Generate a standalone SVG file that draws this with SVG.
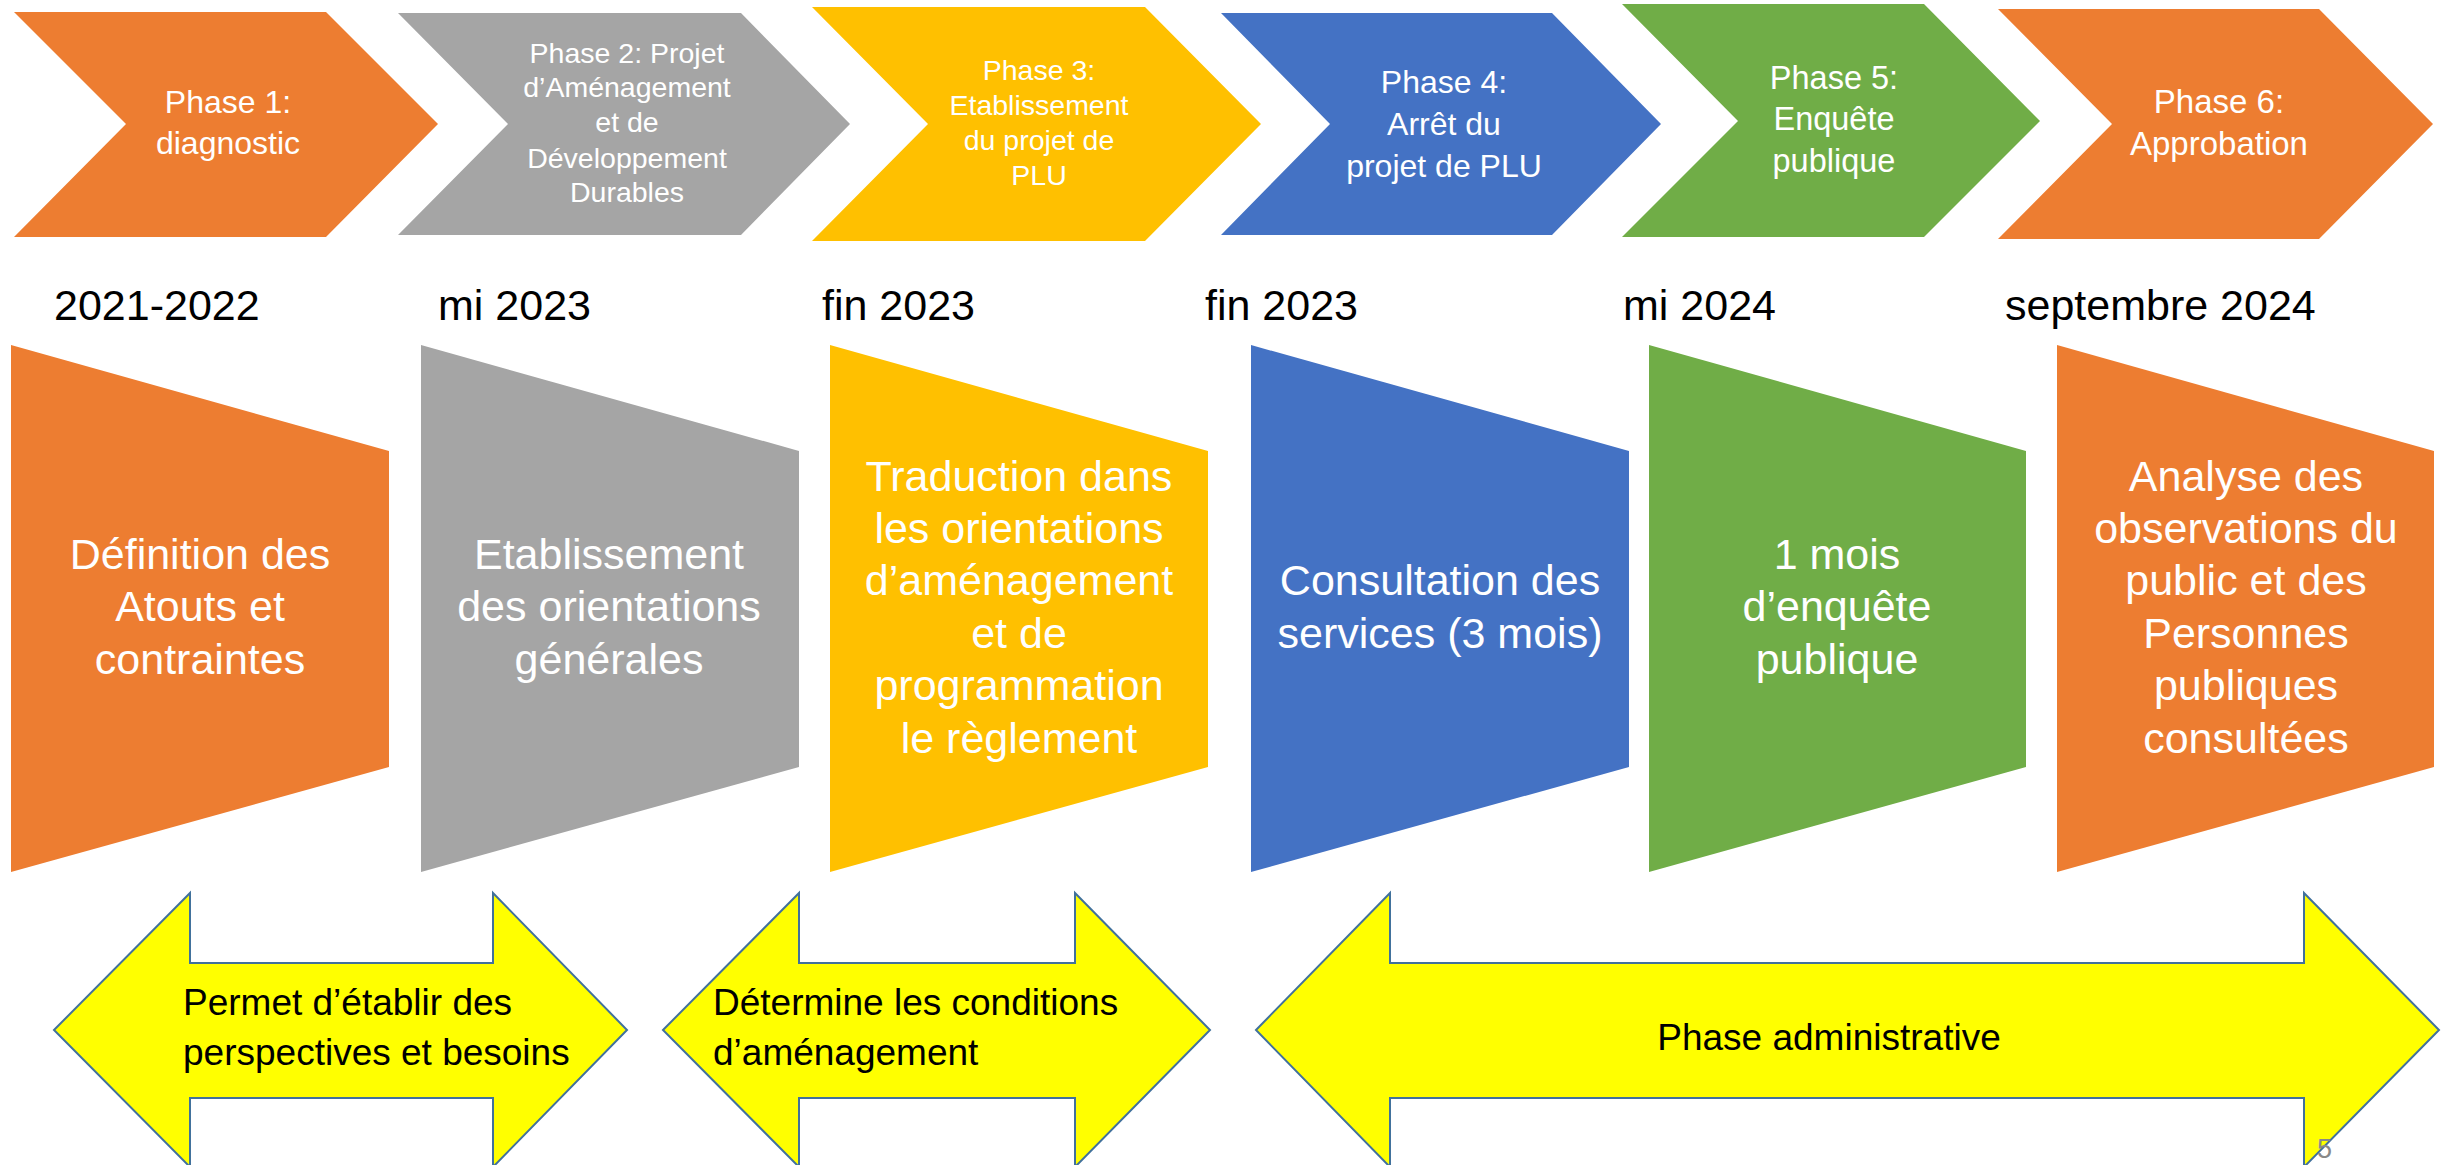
<svg xmlns="http://www.w3.org/2000/svg" width="2453" height="1165" viewBox="0 0 2453 1165">
  <style>
    .orange { fill: #ED7D31; }
    .gray { fill: #A5A5A5; }
    .gold { fill: #FFC000; }
    .blue { fill: #4472C4; }
    .green { fill: #70AD47; }
    .phase { font-family: "Liberation Sans", Arial, sans-serif; fill: #FFFFFF; text-anchor: middle; }
    .date { font-family: "Liberation Sans", Arial, sans-serif; fill: #000000; font-size: 43px; }
    .step { font-family: "Liberation Sans", Arial, sans-serif; fill: #FFFFFF; font-size: 43px; text-anchor: middle; }
    .span { fill: #FFFF00; stroke: #41719C; stroke-width: 2; stroke-linejoin: miter; }
    .spanText { font-family: "Liberation Sans", Arial, sans-serif; fill: #000000; font-size: 37px; }
    .pageNum { font-family: "Liberation Sans", Arial, sans-serif; fill: #898989; font-size: 27px; }
  </style>

  <rect width="2453" height="1165" fill="#FFFFFF"/>

  <!-- Phase chevrons -->
  <g id="phase1">
    <polygon class="orange" points="14,12 326,12 438,124 326,237 14,237 126,124"/>
    <text class="phase" font-size="32" x="228"><tspan x="228" y="113">Phase 1:</tspan><tspan x="228" y="154">diagnostic</tspan></text>
  </g>
  <g id="phase2">
    <polygon class="gray" points="398,13 741,13 850,124 741,235 398,235 508,124"/>
    <text class="phase" font-size="28.5"><tspan x="627" y="63">Phase 2: Projet</tspan><tspan x="627" y="97">d’Aménagement</tspan><tspan x="627" y="132">et de</tspan><tspan x="627" y="168">Développement</tspan><tspan x="627" y="202">Durables</tspan></text>
  </g>
  <g id="phase3">
    <polygon class="gold" points="812,7 1145,7 1261,124 1145,241 812,241 928,124"/>
    <text class="phase" font-size="28.5"><tspan x="1039" y="80">Phase 3:</tspan><tspan x="1039" y="115">Etablissement</tspan><tspan x="1039" y="150">du projet de</tspan><tspan x="1039" y="185">PLU</tspan></text>
  </g>
  <g id="phase4">
    <polygon class="blue" points="1221,13 1552,13 1661,124 1552,235 1221,235 1330,124"/>
    <text class="phase" font-size="32"><tspan x="1444" y="93">Phase 4:</tspan><tspan x="1444" y="135">Arrêt du</tspan><tspan x="1444" y="177">projet de PLU</tspan></text>
  </g>
  <g id="phase5">
    <polygon class="green" points="1622,4 1924,4 2040,121 1924,237 1622,237 1738,121"/>
    <text class="phase" font-size="32.5"><tspan x="1834" y="89">Phase 5:</tspan><tspan x="1834" y="130">Enquête</tspan><tspan x="1834" y="172">publique</tspan></text>
  </g>
  <g id="phase6">
    <polygon class="orange" points="1998,9 2319,9 2433,124 2319,239 1998,239 2112,124"/>
    <text class="phase" font-size="33"><tspan x="2219" y="113">Phase 6:</tspan><tspan x="2219" y="155">Approbation</tspan></text>
  </g>

  <!-- Dates -->
  <g id="dates">
    <text class="date" x="54" y="320">2021-2022</text>
    <text class="date" x="438" y="320">mi 2023</text>
    <text class="date" x="822" y="320">fin 2023</text>
    <text class="date" x="1205" y="320">fin 2023</text>
    <text class="date" x="1623" y="320">mi 2024</text>
    <text class="date" x="2005" y="320">septembre 2024</text>
  </g>

  <!-- Step panels -->
  <g id="step1">
    <polygon class="orange" points="11,345 389,451 389,767 11,872"/>
    <text class="step"><tspan x="200" y="569">Définition des</tspan><tspan x="200" y="621">Atouts et</tspan><tspan x="200" y="674">contraintes</tspan></text>
  </g>
  <g id="step2">
    <polygon class="gray" points="421,345 799,451 799,767 421,872"/>
    <text class="step"><tspan x="609" y="569">Etablissement</tspan><tspan x="609" y="621">des orientations</tspan><tspan x="609" y="674">générales</tspan></text>
  </g>
  <g id="step3">
    <polygon class="gold" points="830,345 1208,451 1208,767 830,872"/>
    <text class="step"><tspan x="1019" y="491">Traduction dans</tspan><tspan x="1019" y="543">les orientations</tspan><tspan x="1019" y="595">d’aménagement</tspan><tspan x="1019" y="648">et de</tspan><tspan x="1019" y="700">programmation</tspan><tspan x="1019" y="753">le règlement</tspan></text>
  </g>
  <g id="step4">
    <polygon class="blue" points="1251,345 1629,451 1629,767 1251,872"/>
    <text class="step"><tspan x="1440" y="595">Consultation des</tspan><tspan x="1440" y="648">services (3 mois)</tspan></text>
  </g>
  <g id="step5">
    <polygon class="green" points="1649,345 2026,451 2026,767 1649,872"/>
    <text class="step"><tspan x="1837" y="569">1 mois</tspan><tspan x="1837" y="621">d’enquête</tspan><tspan x="1837" y="674">publique</tspan></text>
  </g>
  <g id="step6">
    <polygon class="orange" points="2057,345 2434,451 2434,767 2057,872"/>
    <text class="step"><tspan x="2246" y="491">Analyse des</tspan><tspan x="2246" y="543">observations du</tspan><tspan x="2246" y="595">public et des</tspan><tspan x="2246" y="648">Personnes</tspan><tspan x="2246" y="700">publiques</tspan><tspan x="2246" y="753">consultées</tspan></text>
  </g>

  <!-- Span arrows -->
  <g id="connectors">
    <g id="span1">
      <path class="span" d="M54,1030 L190,893 L190,963 L493,963 L493,893 L627,1030 L493,1167 L493,1098 L190,1098 L190,1167 Z"/>
      <text class="spanText"><tspan x="183" y="1015">Permet d’établir des</tspan><tspan x="183" y="1065">perspectives et besoins</tspan></text>
    </g>
    <g id="span2">
      <path class="span" d="M663,1030 L799,893 L799,963 L1075,963 L1075,893 L1210,1030 L1075,1167 L1075,1098 L799,1098 L799,1167 Z"/>
      <text class="spanText"><tspan x="713" y="1015">Détermine les conditions</tspan><tspan x="713" y="1065">d’aménagement</tspan></text>
    </g>
    <g id="span3">
      <path class="span" d="M1256,1030 L1390,893 L1390,963 L2304,963 L2304,893 L2439,1030 L2304,1167 L2304,1098 L1390,1098 L1390,1167 Z"/>
      <text class="spanText" x="1829" y="1050" text-anchor="middle">Phase administrative</text>
    </g>
  </g>

  <text class="pageNum" x="2317" y="1158">5</text>
</svg>
